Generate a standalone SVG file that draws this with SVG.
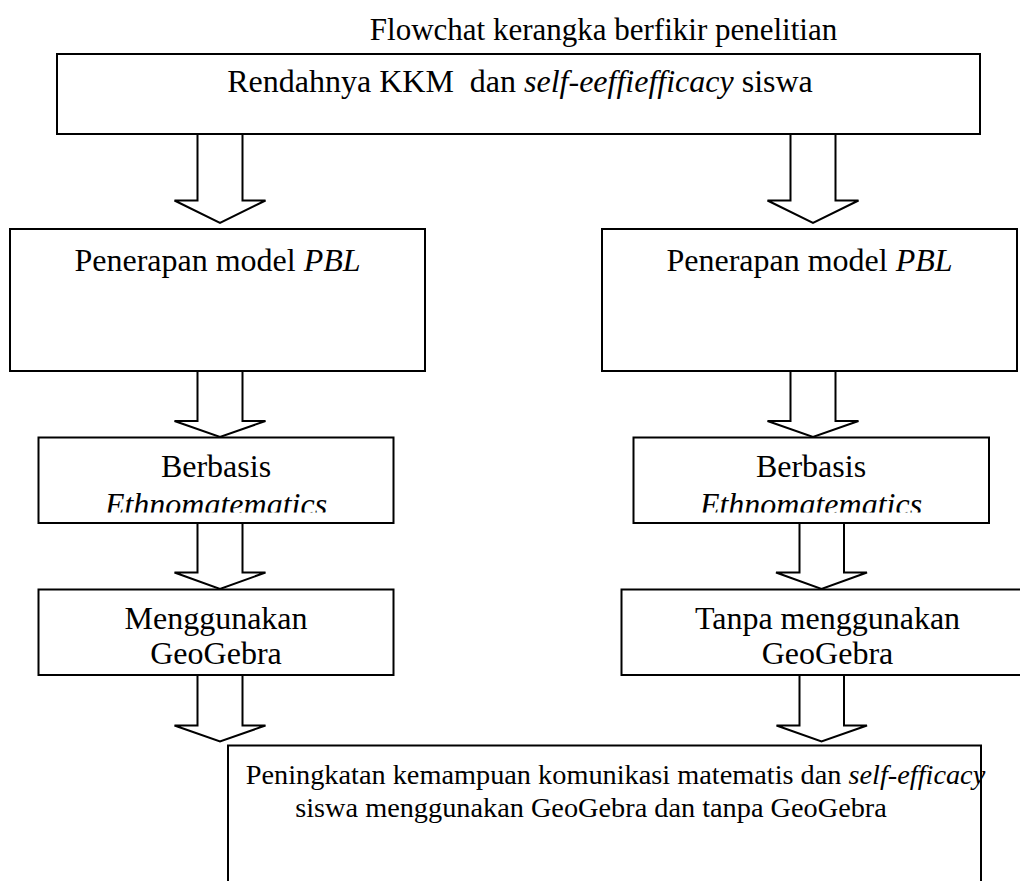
<svg xmlns="http://www.w3.org/2000/svg" width="1020" height="881" viewBox="0 0 1020 881">
<style>
  .box{fill:#fff;stroke:#000;stroke-width:2}
  .arr{fill:#fff;stroke:#000;stroke-width:2;stroke-linejoin:miter}
  text{font-family:"Liberation Serif","Times New Roman",serif;font-size:32px;fill:#000;text-anchor:middle}
  .it{font-style:italic}
  .sm{font-size:28.3px}
</style>
<defs>
  <clipPath id="clipL"><rect x="38" y="437" width="356" height="75.5"/></clipPath>
  <clipPath id="clipR"><rect x="633" y="437" width="356" height="75.5"/></clipPath>
</defs>
<rect width="1020" height="881" fill="#fff"/>
<text id="title" x="603.5" y="40" style="font-size:31px">Flowchat kerangka berfikir penelitian</text>

<g id="n-top">
  <rect class="box" x="57" y="54" width="923" height="80"/>
  <text x="520" y="92" xml:space="preserve">Rendahnya KKM  dan <tspan class="it">self-eeffiefficacy</tspan> siswa</text>
</g>
<g id="n-pbl-left">
  <rect class="box" x="10" y="229" width="415" height="142"/>
  <text x="217.5" y="271">Penerapan model <tspan class="it">PBL</tspan></text>
</g>
<g id="n-pbl-right">
  <rect class="box" x="602" y="229" width="415" height="142"/>
  <text x="809.5" y="271">Penerapan model <tspan class="it">PBL</tspan></text>
</g>
<g id="n-etno-left">
  <rect class="box" x="38.5" y="437.5" width="355" height="85.5"/>
  <text x="216" y="477">Berbasis</text>
  <text x="216" y="515" class="it" clip-path="url(#clipL)">Ethnomatematics</text>
</g>
<g id="n-etno-right">
  <rect class="box" x="633.5" y="437.5" width="355.5" height="85.5"/>
  <text x="811" y="477">Berbasis</text>
  <text x="811" y="515" class="it" clip-path="url(#clipR)">Ethnomatematics</text>
</g>
<g id="n-geo-left">
  <rect class="box" x="38.5" y="589.5" width="355" height="85.5"/>
  <text x="216" y="629">Menggunakan</text>
  <text x="216" y="664">GeoGebra</text>
</g>
<g id="n-geo-right">
  <rect class="box" x="621.5" y="589.5" width="412" height="85.5"/>
  <text x="827.5" y="629">Tanpa menggunakan</text>
  <text x="827.5" y="664">GeoGebra</text>
</g>
<g id="n-result">
  <path class="box" d="M228,890 V745.5 H981 V890"/>
  <text class="sm" x="615.5" y="784">Peningkatan kemampuan komunikasi matematis dan <tspan class="it">self-efficacy</tspan></text>
  <text class="sm" x="591" y="817">siswa menggunakan GeoGebra dan tanpa GeoGebra</text>
</g>

<g id="connectors">
  <polygon class="arr" points="197.5,134 242.5,134 242.5,200.5 265.5,200.5 220,223 174.5,200.5 197.5,200.5"/>
  <polygon class="arr" points="790.5,134 835.5,134 835.5,200.5 858.5,200.5 813,223 767.5,200.5 790.5,200.5"/>
  <polygon class="arr" points="197.5,371 242.5,371 242.5,421 265.5,421 220,437 174.5,421 197.5,421"/>
  <polygon class="arr" points="790.5,371 835.5,371 835.5,421 858.5,421 813,437 767.5,421 790.5,421"/>
  <polygon class="arr" points="197.5,523 242.5,523 242.5,572.5 265.5,572.5 220,589 174.5,572.5 197.5,572.5"/>
  <polygon class="arr" points="799.5,523 844,523 844,572.5 867,572.5 821.5,589 776,572.5 799.5,572.5"/>
  <polygon class="arr" points="197.5,675 242.5,675 242.5,725.5 265.5,725.5 220,741.5 174.5,725.5 197.5,725.5"/>
  <polygon class="arr" points="799.5,675 844,675 844,725.5 867,725.5 821.5,741.5 776.5,725.5 799.5,725.5"/>
</g>
</svg>
